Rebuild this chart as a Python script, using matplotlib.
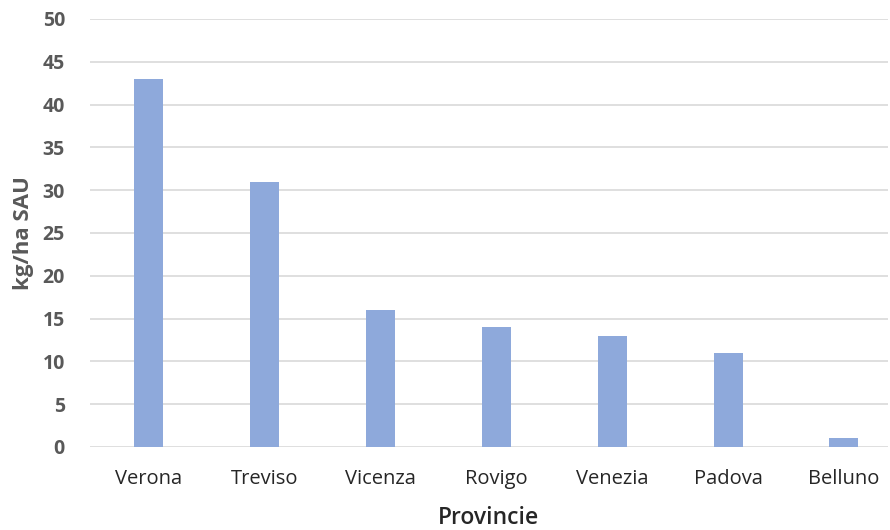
import matplotlib.pyplot as plt
import numpy as np

plt.rcParams['font.family'] = ['Open Sans', 'DejaVu Sans']

provinces = ['Verona', 'Treviso', 'Vicenza', 'Rovigo', 'Venezia', 'Padova', 'Belluno']
values = [43, 30.9, 16, 14, 13, 11, 1]
yticks = [0, 5, 10, 15, 20, 25, 30, 35, 40, 45, 50]

fig = plt.figure(figsize=(8.9, 5.3), dpi=100)
ax = fig.add_axes([90 / 890, 83 / 530, 798 / 890, 428 / 530])

x = np.arange(len(provinces))
ax.bar(x, values, width=0.25, color='#8EA9DB', zorder=3)

# plot area in the original runs past the right edge of the image
ax.set_xlim(-0.505, 6.38)
ax.set_ylim(0, 50)
ax.set_yticks(yticks)
ax.set_xticks(x)
ax.set_xticklabels(provinces, fontsize=14.5, color='#262626')
ax.set_yticklabels([str(v) for v in yticks], fontsize=14, color='#595959', fontweight='bold')

ax.grid(axis='y', color='#D9D9D9', linewidth=1.2, zorder=0)
for s in ax.spines.values():
    s.set_visible(False)
ax.tick_params(axis='both', length=0)
ax.tick_params(axis='y', pad=18)
ax.tick_params(axis='x', pad=16)

ax.set_ylabel('kg/ha SAU', fontsize=16, color='#595959', fontweight='bold', labelpad=6)
ax.set_xlabel('Provincie', fontsize=16.5, color='#262626', fontweight='semibold', labelpad=12)

fig.savefig('out.png', dpi=100)
